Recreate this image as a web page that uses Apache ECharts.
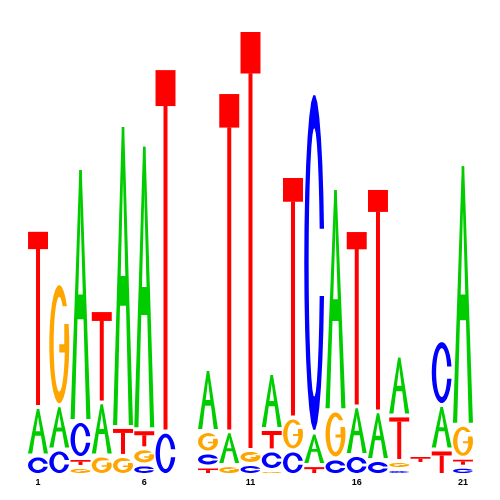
<!DOCTYPE html>
<html>
<head>
<meta charset="utf-8">
<script src="https://cdn.jsdelivr.net/npm/echarts@6/dist/echarts.min.js"></script>
<style>html,body{margin:0;padding:0;background:#fff}#chart{width:500px;height:500px}</style>
</head>
<body>
<div id="chart"></div>
<script>
// Sequence logo: information (bits) of each base per position
const positions = ['1','2','3','4','5','6','7','8','9','10','11','12','13','14','15','16','17','18','19','20','21'];
const tickPositions = ['1','6','11','16','21'];
const bitsA = [0.211,0.191,1.100,0.230,1.313,1.237,0.000,0,0.270,0.146,0.000,0.243,0.000,0.141,0.967,0.211,0.211,0.259,0.016,0.193,1.133];
const bitsC = [0.085,0.111,0.161,0.000,0.000,0.046,0.189,0,0.061,0.000,0.048,0.085,0.107,1.480,0.072,0.087,0.065,0.026,0.016,0.283,0.036];
const bitsG = [0.000,0.533,0.035,0.085,0.083,0.070,0.000,0,0.093,0.043,0.061,0.022,0.143,0.000,0.209,0.000,0.000,0.035,0.016,0.000,0.143];
const bitsT = [0.770,0.000,0.039,0.402,0.126,0.083,1.580,0,0.037,1.476,1.826,0.093,1.050,0.043,0.000,0.767,0.972,0.198,0.039,0.111,0.039];
const bases = ['A','C','G','T'];
const baseColors = {A:'#00CC00', C:'#0000FF', G:'#FFA500', T:'#FF0000'};

// build stacked data: smallest at bottom
const data = [];
positions.forEach((p, i) => {
  const vals = [bitsA[i], bitsC[i], bitsG[i], bitsT[i]];
  const order = [0,1,2,3].sort((a,b) => vals[a] - vals[b]);
  let acc = 0;
  order.forEach(k => {
    const v = vals[k];
    if (v > 0) data.push([i, acc, acc + v, k]);
    acc += v;
  });
});

function arc(cx, cy, rx, ry, t0, t1, n) {
  const pts = [];
  for (let i = 0; i <= n; i++) {
    const t = t0 + (t1 - t0) * i / n;
    pts.push([cx + rx * Math.cos(t), cy - ry * Math.sin(t)]);
  }
  return pts;
}

function glyph(letter, x0, y0, w, h) {
  const shapes = [];
  const P = (u, v) => [x0 + u * w, y0 + v * h];
  if (letter === 'A') {
    shapes.push([P(0,1), P(0.44,0), P(0.56,0), P(0.21,1)]);
    shapes.push([P(0.44,0), P(0.56,0), P(1,1), P(0.79,1)]);
    const cb = Math.max(0.1 * h, 1.5) / h;
    shapes.push([P(0.28,0.5), P(0.72,0.5), P(0.76,0.5+cb), P(0.24,0.5+cb)]);
  } else if (letter === 'T') {
    const th = Math.min(Math.max(0.1 * h, 4), 0.35 * h) / h;
    shapes.push([P(0,0), P(1,0), P(1,th), P(0,th)]);
    shapes.push([P(0.4,th-0.001), P(0.6,th-0.001), P(0.6,1), P(0.4,1)]);
  } else {
    const cx = x0 + w/2, cy = y0 + h/2, Rx = w/2, Ry = h/2;
    const tx = 0.22 * w;
    const ty = Math.min(Math.max(0.1 * h, 3), 0.3 * h);
    const rx = Rx - tx, ry = Math.max(Ry - ty, 0.3);
    const N = 28;
    if (letter === 'C') {
      const gh = 0.1 * h;
      const to = Math.asin(Math.min(1, gh / Ry));
      const ti = Math.asin(Math.min(1, gh / ry));
      const pts = arc(cx, cy, Rx, Ry, to, 2*Math.PI - to, N)
        .concat(arc(cx, cy, rx, ry, 2*Math.PI - ti, ti, N));
      shapes.push(pts);
    } else {
      const up = 0.32 * h;          // upper arm end (above center)
      const barTop = 0.17 * h;      // right bar top (above center)
      const t1 = Math.asin(Math.min(1, up / Ry));
      const t2 = 2*Math.PI + Math.asin(Math.min(1, barTop / Ry));
      let pts = arc(cx, cy, Rx, Ry, t1, t2, N);
      const end = pts[pts.length - 1];
      const innerX = x0 + w - tx - 0.03 * w;
      const toothB = Math.max(0.07 * h, 1.5);
      pts.push([innerX, end[1]]);
      pts.push([innerX, cy]);
      pts.push([x0 + 0.5 * w, cy]);
      pts.push([x0 + 0.5 * w, cy + toothB]);
      const ts = -Math.asin(Math.min(1, toothB / ry));
      const te = Math.asin(Math.min(1, up / ry)) - 2*Math.PI;
      pts = pts.concat(arc(cx, cy, rx, ry, ts, te, N));
      shapes.push(pts);
    }
  }
  return shapes;
}

const chart = echarts.init(document.getElementById('chart'), null, {renderer: 'canvas'});
chart.setOption({
  backgroundColor: '#ffffff',
  animation: false,
  grid: {left: 27.4, right: 26.4, top: 15, bottom: 25},
  xAxis: {
    type: 'category',
    data: positions,
    boundaryGap: true,
    axisLine: {show: false},
    axisTick: {show: false},
    splitLine: {show: false},
    axisLabel: {
      interval: (idx, val) => tickPositions.indexOf(val) >= 0,
      margin: 3,
      fontSize: 9,
      fontWeight: 'bold',
      color: '#000',
      fontFamily: 'Liberation Sans, Arial, sans-serif'
    }
  },
  yAxis: {type: 'value', min: 0, max: 2, show: false},
  series: [{
    type: 'custom',
    silent: true,
    encode: {x: 0, y: [1, 2]},
    data: data,
    renderItem: function (params, api) {
      const ci = api.value(0), v0 = api.value(1), v1 = api.value(2), k = api.value(3);
      const pb = api.coord([ci, v0]);
      const pt = api.coord([ci, v1]);
      const bw = api.size([1, 0])[0];
      const w = bw * 0.94;
      const pad = 2;
      const top = pt[1] + pad, bot = pb[1] - pad;
      const h = bot - top;
      if (h < 1) return {type: 'group', children: []};
      const letter = bases[k];
      const shapes = glyph(letter, pb[0] - w/2, top, w, h);
      return {
        type: 'group',
        children: shapes.map(pts => ({
          type: 'polygon',
          shape: {points: pts},
          style: {fill: baseColors[letter], stroke: null}
        }))
      };
    }
  }]
});
</script>
</body>
</html>
